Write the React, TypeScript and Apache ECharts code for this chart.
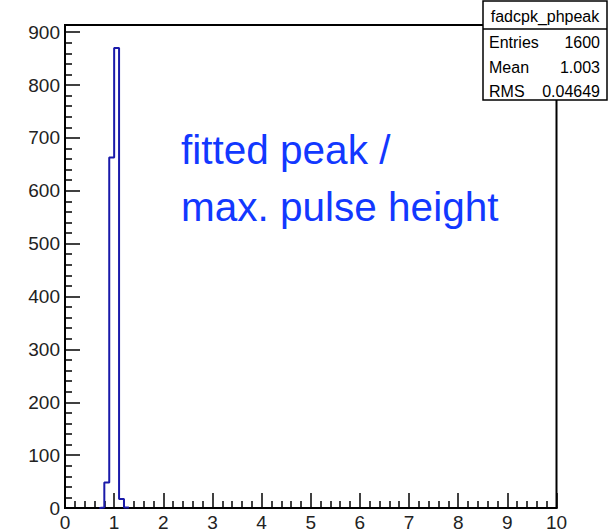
import React, { useEffect, useRef } from "react";
import * as echarts from "echarts";

// Histogram fadcpk_phpeak: 100 bins over [0, 10], only a few are filled.
const binWidth = 0.1;
const firstBinLow = 0.7;
const binCounts = [1, 48, 663, 870, 17, 1];

const xTickLabels = ["0", "1", "2", "3", "4", "5", "6", "7", "8", "9", "10"];
const yTickLabels = ["0", "100", "200", "300", "400", "500", "600", "700", "800", "900"];

const statsTitle = "fadcpk_phpeak";
const statsRows: [string, string][] = [
  ["Entries", "1600"],
  ["Mean", "1.003"],
  ["RMS", "0.04649"],
];

const noteLines = ["fitted peak /", "max. pulse height"];

const FONT = "'Liberation Sans', Arial, Helvetica, sans-serif";

function buildStepOutline(): [number, number][] {
  const pts: [number, number][] = [[firstBinLow, 0]];
  binCounts.forEach((c, i) => {
    pts.push([+(firstBinLow + i * binWidth).toFixed(3), c]);
  });
  pts.push([+(firstBinLow + binCounts.length * binWidth).toFixed(3), 0]);
  return pts;
}

export default function App() {
  const ref = useRef<HTMLDivElement>(null);

  useEffect(() => {
    if (!ref.current) return;
    const chart = echarts.init(ref.current, null, { renderer: "svg" });
    const yMax = Math.max(...binCounts) * 1.05;

    const boxX = 483;
    const boxY = 1;
    const boxW = 124;
    const boxH = 99;
    const rowYs = [42, 67, 91];

    chart.setOption({
      animation: false,
      backgroundColor: "#ffffff",
      grid: {
        left: 65,
        right: 54.5,
        top: 25,
        bottom: 21,
        show: true,
        borderColor: "#000",
        borderWidth: 2,
        backgroundColor: "transparent",
      },
      xAxis: {
        type: "value",
        min: 0,
        max: 10,
        interval: 1,
        axisLine: { show: true, lineStyle: { color: "#000", width: 2 } },
        axisTick: { show: true, inside: true, length: 15, lineStyle: { color: "#000", width: 1.5 } },
        minorTick: { show: true, splitNumber: 5, length: 7, lineStyle: { color: "#000", width: 1.5 } },
        splitLine: { show: false },
        axisLabel: {
          color: "#222",
          fontSize: 19,
          fontFamily: FONT,
          margin: 5,
          formatter: (v: number) => xTickLabels[Math.round(v)] ?? "",
        },
      },
      yAxis: {
        type: "value",
        min: 0,
        max: yMax,
        interval: 100,
        axisLine: { show: true, lineStyle: { color: "#000", width: 2 } },
        axisTick: { show: true, inside: true, length: 15, lineStyle: { color: "#000", width: 1.5 } },
        minorTick: { show: true, splitNumber: 5, length: 7, lineStyle: { color: "#000", width: 1.5 } },
        splitLine: { show: false },
        axisLabel: {
          color: "#222",
          fontSize: 19,
          fontFamily: FONT,
          margin: 5,
          showMaxLabel: false,
          formatter: (v: number) => {
            const idx = Math.round(v / 100);
            return Math.abs(v - idx * 100) < 1e-6 ? yTickLabels[idx] ?? "" : "";
          },
        },
      },
      series: [
        {
          type: "line",
          step: "end",
          data: buildStepOutline(),
          showSymbol: false,
          symbol: "none",
          lineStyle: { color: "#1a1aaa", width: 2 },
          z: 5,
        },
      ],
      graphic: [
        {
          type: "group",
          z: 100,
          children: [
            {
              type: "rect",
              shape: { x: boxX, y: boxY, width: boxW, height: boxH },
              style: { fill: "#fff", stroke: "#000", lineWidth: 1.5 },
            },
            {
              type: "line",
              shape: { x1: boxX, y1: 29, x2: boxX + boxW, y2: 29 },
              style: { stroke: "#000", lineWidth: 1.5 },
            },
            {
              type: "text",
              x: boxX + boxW / 2,
              y: 16,
              style: {
                text: statsTitle,
                fill: "#000",
                font: `16px ${FONT}`,
                textAlign: "center",
                textVerticalAlign: "middle",
              },
            },
            ...statsRows.flatMap(([k, v], i) => [
              {
                type: "text",
                x: boxX + 6,
                y: rowYs[i],
                style: {
                  text: k,
                  fill: "#000",
                  font: `16px ${FONT}`,
                  textAlign: "left",
                  textVerticalAlign: "middle",
                },
              },
              {
                type: "text",
                x: boxX + boxW - 7,
                y: rowYs[i],
                style: {
                  text: v,
                  fill: "#000",
                  font: `16px ${FONT}`,
                  textAlign: "right",
                  textVerticalAlign: "middle",
                },
              },
            ]),
          ],
        },
        ...noteLines.map((t, i) => ({
          type: "text",
          z: 100,
          x: 181,
          y: 149.5 + i * 57,
          style: {
            text: t,
            fill: "#1238ff",
            font: `40.5px ${FONT}`,
            textAlign: "left",
            textVerticalAlign: "middle",
          },
        })),
      ],
    });

    return () => chart.dispose();
  }, []);

  return (
    <div
      ref={ref}
      style={{ position: "absolute", left: 0, top: 0, width: 611, height: 532, background: "#fff" }}
    />
  );
}
